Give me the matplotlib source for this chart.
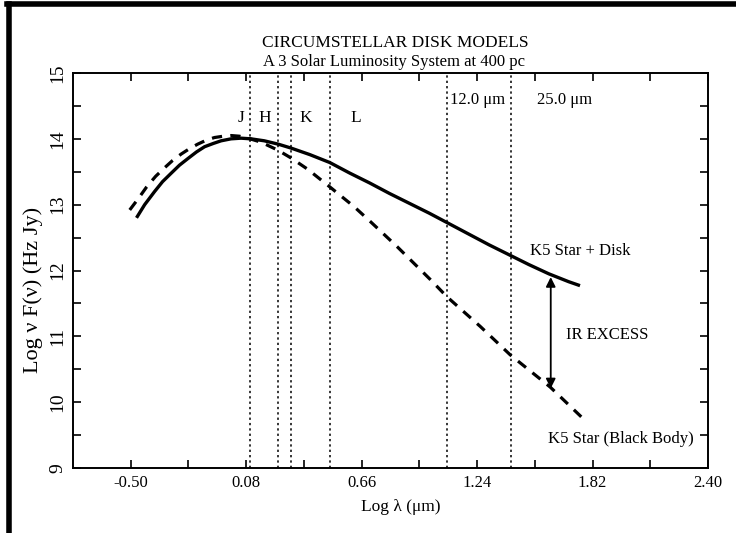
import numpy as np
import matplotlib
matplotlib.use('Agg')
import matplotlib.pyplot as plt
from matplotlib.lines import Line2D

# K5 star + disk model (solid)
disk_x = [-0.471, -0.43, -0.380, -0.34, -0.296, -0.255, -0.213, -0.17, -0.129, -0.085,
          -0.046, 0.004, 0.054, 0.104, 0.171, 0.24, 0.305, 0.40, 0.50, 0.60, 0.70,
          0.80, 0.90, 1.00, 1.10, 1.20, 1.30, 1.40, 1.50, 1.60, 1.70, 1.757]
disk_y = [12.80, 13.00, 13.20, 13.35, 13.48, 13.60, 13.70, 13.80, 13.88, 13.93,
          13.97, 14.00, 14.01, 14.00, 13.97, 13.92, 13.86, 13.76, 13.64, 13.48, 13.33,
          13.17, 13.02, 12.87, 12.71, 12.55, 12.39, 12.24, 12.09, 11.95, 11.83, 11.77]

# K5 star black body (dashed)
bb_x = [-0.505, -0.46, -0.42, -0.375, -0.33, -0.29, -0.246, -0.205, -0.163, -0.12,
        -0.079, -0.035, 0.004, 0.046, 0.088, 0.154, 0.238, 0.305, 0.388, 0.496, 0.622,
        0.705, 0.839, 1.006, 1.089, 1.256, 1.406, 1.607, 1.790]
bb_y = [12.92, 13.10, 13.27, 13.43, 13.56, 13.67, 13.77, 13.85, 13.92, 13.98,
        14.02, 14.04, 14.05, 14.04, 14.01, 13.95, 13.83, 13.71, 13.54, 13.28, 12.97,
        12.74, 12.36, 11.86, 11.60, 11.15, 10.72, 10.23, 9.70]

# filter band positions (dotted lines)
band_x = [0.10, 0.24, 0.305, 0.50, 1.09, 1.41]
band_names = ['J', 'H', 'K', 'L']
band_name_x = [0.055, 0.171, 0.38, 0.63]

xticks = [-0.50, 0.08, 0.66, 1.24, 1.82, 2.40]
xminor = [-0.21, 0.37, 0.95, 1.53, 2.11]
yticks = [9, 10, 11, 12, 13, 14, 15]
yminor = [9.5, 10.5, 11.5, 12.5, 13.5, 14.5]

excess_x = 1.61
excess_top = 11.90
excess_bot = 10.21

plt.rcParams['font.family'] = ['Liberation Serif', 'DejaVu Serif']
plt.rcParams['font.size'] = 12

W, H = 736, 533
fig = plt.figure(figsize=(W / 100, H / 100), dpi=100)
ax = fig.add_axes([73 / W, 1 - 468 / H, (708 - 73) / W, (468 - 73) / H])

for bx in band_x:
    ax.axvline(bx, color='black', lw=1.1, ls=(0, (1.5, 2)))

ax.plot(disk_x, disk_y, color='black', lw=2.4, solid_capstyle='butt')
ax.plot(bb_x, bb_y, color='black', lw=2.3, ls=(0, (3.2, 2.6)))

ax.annotate('', xy=(excess_x, excess_top), xytext=(excess_x, excess_bot),
            arrowprops=dict(arrowstyle='<|-|>', color='black', lw=1.3,
                            mutation_scale=14, shrinkA=0, shrinkB=0))

for name, nx in zip(band_names, band_name_x):
    ax.text(nx, 14.31, name, ha='center', va='center', fontsize=12.5)
ax.text(1.104, 14.59, '12.0 \u03bcm', ha='left', va='center', fontsize=12)
ax.text(1.54, 14.59, '25.0 \u03bcm', ha='left', va='center', fontsize=12)
ax.text(1.507, 12.29, 'K5 Star + Disk', ha='left', va='center', fontsize=12)
ax.text(1.687, 11.02, 'IR EXCESS', ha='left', va='center', fontsize=12)
ax.text(1.597, 9.44, 'K5 Star (Black Body)', ha='left', va='center', fontsize=12)

ax.set_xlim(-0.79, 2.40)
ax.set_ylim(9, 15)
ax.set_xticks(xticks)
ax.set_xticklabels(['%.2f' % v for v in xticks])
ax.set_xticks(xminor, minor=True)
ax.set_yticks(yticks)
ax.set_yticklabels([str(v) for v in yticks], rotation=90, va='center', fontsize=14)
ax.set_yticks(yminor, minor=True)
ax.tick_params(which='both', direction='in', length=6, width=1.2,
               top=True, right=True)
ax.tick_params(axis='x', pad=5, labelsize=12)
ax.tick_params(axis='y', pad=5)
for s in ax.spines.values():
    s.set_linewidth(1.4)

fig.text(401 / W, 1 - 507 / H, 'Log \u03bb (\u03bcm)', ha='center', va='center', fontsize=12.5)
fig.text(33 / W, 1 - 290 / H, 'Log \u03bd F(\u03bd) (Hz Jy)', ha='center', va='center',
         rotation=90, fontsize=16)
fig.text(395 / W, 1 - 43 / H, 'CIRCUMSTELLAR DISK MODELS', ha='center', va='center', fontsize=12.5)
fig.text(394 / W, 1 - 62 / H, 'A 3 Solar Luminosity System at 400 pc', ha='center', va='center', fontsize=12)

# picture frame on top and left
fig.add_artist(Line2D([9 / W, 9 / W], [0, 1 - 4 / H], color='black', lw=4))
fig.add_artist(Line2D([7 / W, 1], [1 - 4 / H, 1 - 4 / H], color='black', lw=4))

fig.savefig('out.png', dpi=100)
